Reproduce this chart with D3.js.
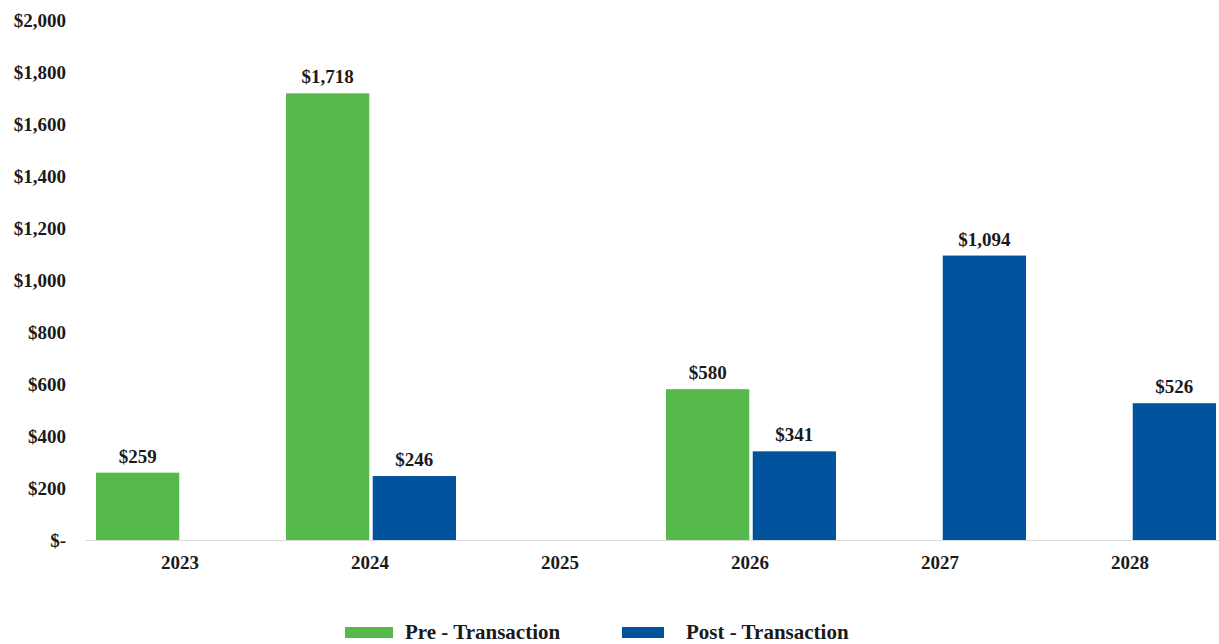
<!DOCTYPE html>
<html><head><meta charset="utf-8">
<script src="https://cdn.jsdelivr.net/npm/d3@7/dist/d3.min.js"></script>
<style>body{margin:0;background:#fff}svg{display:block}text{font-family:"Liberation Serif","DejaVu Serif",serif;font-weight:bold;fill:#1a1a1a}</style>
</head><body><svg id="c" width="1219" height="644"></svg>
<script>
const categories = ["2023","2024","2025","2026","2027","2028"];
const preValues = [259, 1718, null, 580, null, null];
const postValues = [null, 246, null, 341, 1094, 526];
const seriesNames = ["Pre - Transaction","Post - Transaction"];
const yTicks = [0,200,400,600,800,1000,1200,1400,1600,1800,2000];
const colors = ["#56b94b","#00539c"];

const svg = d3.select("#c");
const x0 = d3.scaleBand().domain(categories).range([85,1225]);
const x1 = d3.scaleBand().domain(seriesNames).range([11,181]).paddingInner(0.04);
const y = d3.scaleLinear().domain([0,2000]).range([540,20]);

const fmt = v => v===0 ? "$-" : "$" + d3.format(",")(v);

// y axis labels
const ya = svg.append("g").attr("transform","translate(66,0)")
  .call(d3.axisLeft(y).tickValues(yTicks).tickFormat(fmt).tickSize(0).tickPadding(0));
ya.select(".domain").remove();
ya.selectAll("text").style("font-size","19px").style("font-family","Liberation Serif").style("font-weight","bold");

// x axis
const xa = svg.append("g").attr("transform","translate(0,540)")
  .call(d3.axisBottom(x0).tickSize(0).tickPadding(16));
xa.select(".domain").attr("stroke","#d9d9d9").attr("stroke-width",1.2);
xa.selectAll("text").style("font-size","19px").style("font-family","Liberation Serif").style("font-weight","bold");

const data = categories.map((c,i)=>({cat:c, vals:[preValues[i], postValues[i]]}));
const groups = svg.append("g").selectAll("g").data(data).join("g")
  .attr("transform", d => `translate(${x0(d.cat)},0)`);
const items = groups.selectAll("g").data(d => d.vals.map((v,j)=>({v, s:seriesNames[j], j})).filter(e=>e.v!=null)).join("g");
items.append("rect")
  .attr("x", d=>x1(d.s)).attr("width", x1.bandwidth())
  .attr("y", d=>y(d.v)).attr("height", d=>y(0)-y(d.v))
  .attr("fill", d=>colors[d.j]);
items.append("text")
  .attr("x", d=>x1(d.s)+x1.bandwidth()/2).attr("y", d=>y(d.v)-10)
  .attr("text-anchor","middle").style("font-size","19px")
  .text(d=>fmt(d.v));

// legend
const leg = svg.append("g");
const legX = [345, 622];
seriesNames.forEach((s,i)=>{
  leg.append("rect").attr("x",legX[i]).attr("y",627).attr("width",i?42:48).attr("height",11).attr("fill",colors[i]);
  leg.append("text").attr("x",legX[i]+(i?64:60)).attr("y",639).style("font-size","21px").text(s);
});
</script></body></html>
